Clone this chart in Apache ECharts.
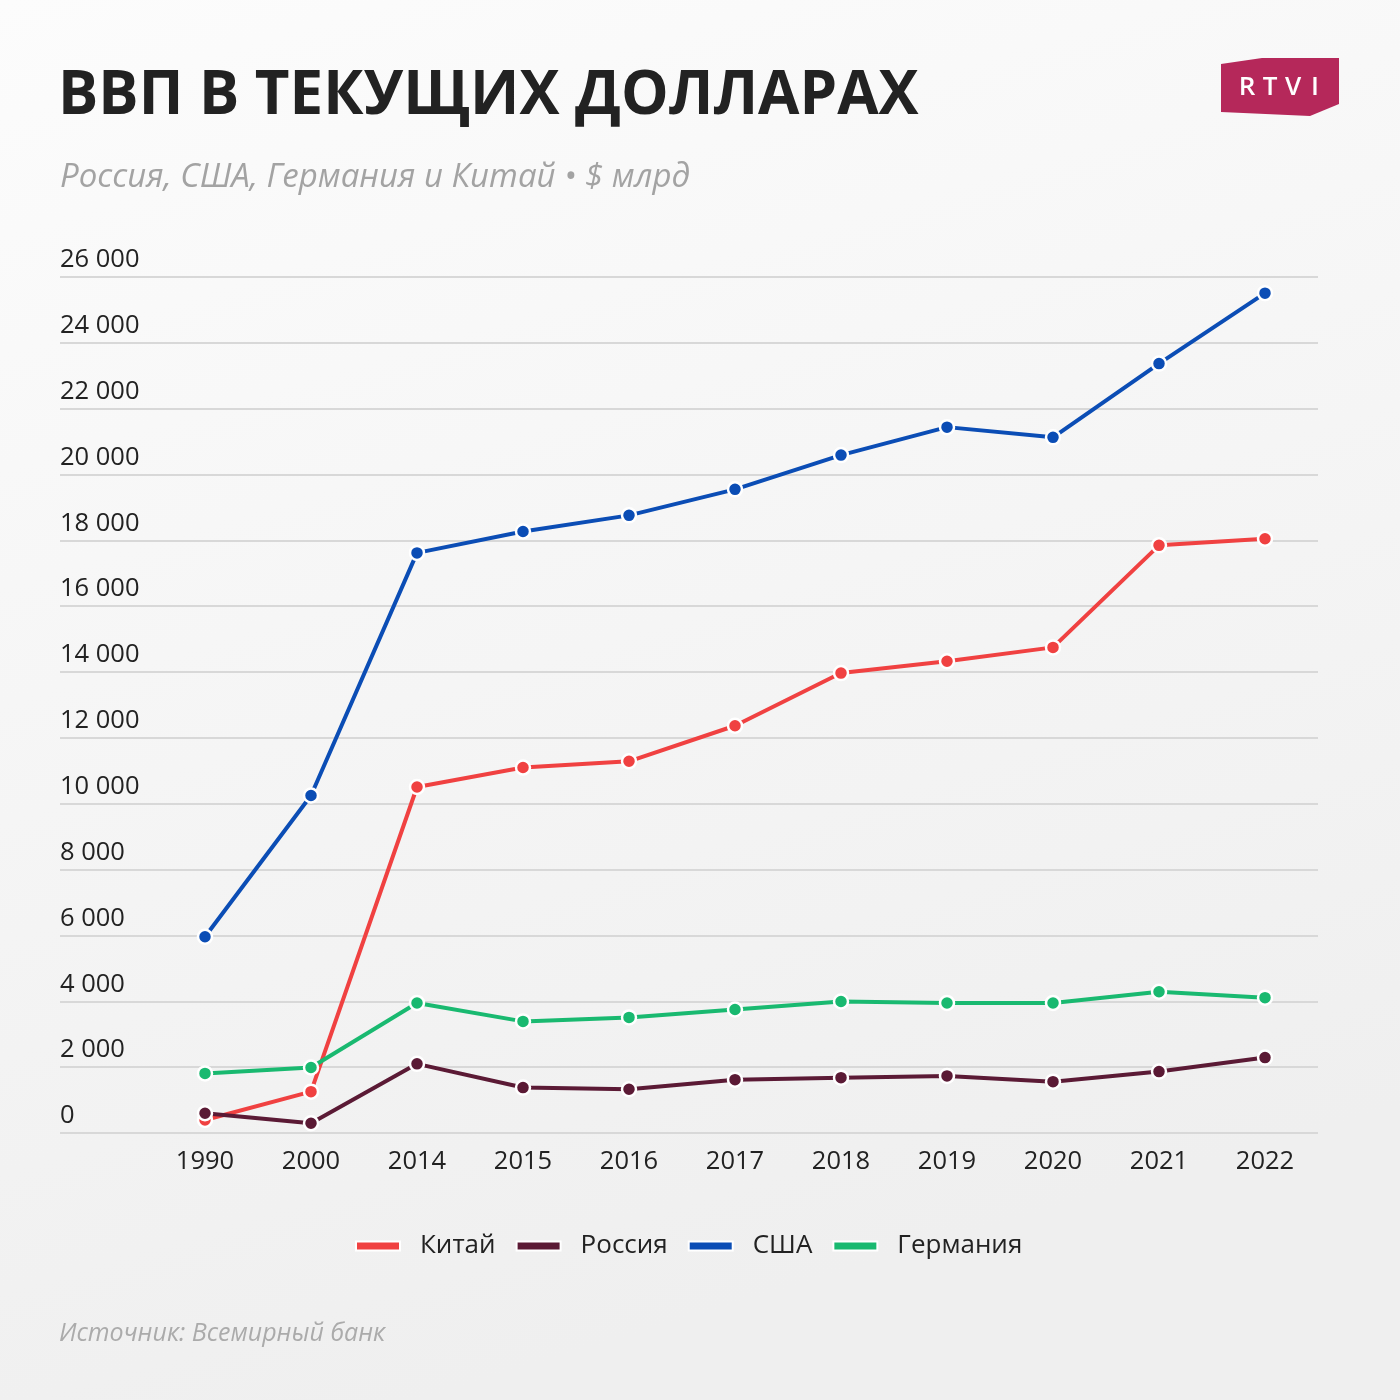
<!DOCTYPE html>
<html>
<head>
<meta charset="utf-8">
<script src="https://cdn.jsdelivr.net/npm/echarts@6/dist/echarts.min.js"></script>
<style>
  html, body { margin: 0; padding: 0; }
  #chart { width: 1400px; height: 1400px; }
</style>
</head>
<body>
<div id="chart"></div>
<script>
// годы
var years = ['1990', '2000', '2014', '2015', '2016', '2017', '2018', '2019', '2020', '2021', '2022'];
// ВВП, $ млрд
var china = [395, 1255, 10510, 11100, 11290, 12370, 13970, 14330, 14750, 17850, 18050];
var russia = [600, 295, 2100, 1380, 1330, 1620, 1680, 1735, 1560, 1865, 2290];
var usa = [5960, 10250, 17620, 18270, 18760, 19550, 20590, 21440, 21130, 23370, 25510];
var germany = [1810, 1990, 3950, 3390, 3510, 3750, 3995, 3950, 3950, 4290, 4110];

var names = ['Китай', 'Россия', 'США', 'Германия'];
var colors = ['#f04141', '#5b1a35', '#0b4db5', '#19b970'];

var font = '"Open Sans", "Noto Sans", sans-serif';

function fmt(v) {
  return String(v).replace(/\B(?=(\d{3})+(?!\d))/g, ' ');
}

function makeSeries(name, data, color) {
  return {
    name: name,
    type: 'line',
    xAxisIndex: 1,
    yAxisIndex: 1,
    data: data,
    symbol: 'circle',
    symbolSize: 14,
    lineStyle: { width: 4, color: color },
    itemStyle: { color: color, borderColor: '#ffffff', borderWidth: 2.5 },
    emphasis: { disabled: true }
  };
}

var chart = echarts.init(document.getElementById('chart'));

var option = {
  backgroundColor: new echarts.graphic.LinearGradient(0, 0, 0.3, 1, [
    { offset: 0, color: '#fcfcfc' },
    { offset: 1, color: '#efefef' }
  ]),
  animation: false,
  title: [{
    text: 'ВВП В ТЕКУЩИХ ДОЛЛАРАХ',
    left: 53,
    top: 56,
    textStyle: { fontFamily: font, fontWeight: 'bold', fontSize: 60, color: '#222222', lineHeight: 72 }
  }, {
    text: 'Россия, США, Германия и Китай • $ млрд',
    left: 55,
    top: 153,
    textStyle: { fontFamily: font, fontStyle: 'italic', fontWeight: 'normal', fontSize: 33, color: '#a3a3a3', lineHeight: 40 }
  }, {
    text: 'Источник: Всемирный банк',
    left: 54,
    top: 1313,
    textStyle: { fontFamily: font, fontStyle: 'italic', fontWeight: 'normal', fontSize: 25, color: '#ababab', lineHeight: 32 }
  }],
  graphic: [{
    type: 'polygon',
    shape: { points: [[1221, 64], [1262, 58], [1339, 58], [1339, 104], [1310, 116], [1221, 112]] },
    style: { fill: '#b5285a' }
  }, {
    type: 'text', x: 1247, y: 88,
    style: { text: 'R', fill: '#fff', font: '600 26px ' + font, textAlign: 'center', textVerticalAlign: 'middle' }
  }, {
    type: 'text', x: 1270, y: 88,
    style: { text: 'T', fill: '#fff', font: '600 26px ' + font, textAlign: 'center', textVerticalAlign: 'middle' }
  }, {
    type: 'text', x: 1293, y: 88,
    style: { text: 'V', fill: '#fff', font: '600 26px ' + font, textAlign: 'center', textVerticalAlign: 'middle' }
  }, {
    type: 'text', x: 1315, y: 88,
    style: { text: 'I', fill: '#fff', font: '600 26px ' + font, textAlign: 'center', textVerticalAlign: 'middle' }
  }],
  legend: {
    data: names,
    left: 350,
    top: 1228,
    icon: 'rect',
    itemWidth: 44,
    itemHeight: 9,
    itemGap: 20,
    textStyle: { fontFamily: font, fontSize: 26, fontWeight: 500, color: '#222222', padding: [0, 0, 0, 15] }
  },
  grid: [
    { left: 60, right: 82, top: 277, bottom: 267 },
    { left: 152, right: 82, top: 277, bottom: 267 }
  ],
  xAxis: [{
    gridIndex: 0,
    type: 'value',
    show: false
  }, {
    gridIndex: 1,
    type: 'category',
    data: years,
    boundaryGap: true,
    axisLine: { show: false },
    axisTick: { show: false },
    axisLabel: { margin: 16, fontFamily: font, fontSize: 25.5, fontWeight: 500, color: '#222222' }
  }],
  yAxis: [{
    gridIndex: 0,
    type: 'value',
    min: 0,
    max: 26000,
    interval: 2000,
    axisLine: { show: false },
    axisTick: { show: false },
    splitLine: { lineStyle: { color: '#d8d8d8', width: 2 } },
    axisLabel: {
      inside: true,
      margin: 0,
      align: 'left',
      verticalAlign: 'bottom',
      padding: [0, 0, 4, 0],
      fontFamily: font,
      fontSize: 25.5,
      fontWeight: 500,
      color: '#222222',
      formatter: fmt
    }
  }, {
    gridIndex: 1,
    type: 'value',
    min: 0,
    max: 26000,
    interval: 2000,
    show: false,
    splitLine: { show: false }
  }],
  series: [
    makeSeries(names[0], china, colors[0]),
    makeSeries(names[1], russia, colors[1]),
    makeSeries(names[2], usa, colors[2]),
    makeSeries(names[3], germany, colors[3])
  ]
};

chart.setOption(option);
</script>
</body>
</html>
